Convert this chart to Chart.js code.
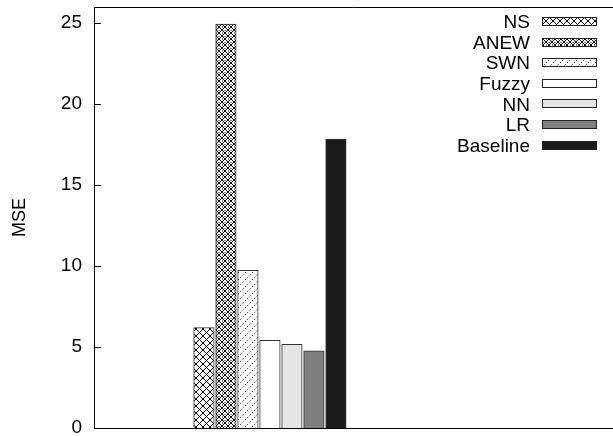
<!DOCTYPE html>
<html>
<head>
<meta charset="utf-8">
<script src="https://cdn.jsdelivr.net/npm/chart.js@4.4.0/dist/chart.umd.min.js"></script>
<style>
  body { margin: 0; background: #fff; }
  #wrap { width: 613px; height: 436px; }
</style>
</head>
<body>
<div id="wrap"><canvas id="myCanvas" width="613" height="436"></canvas></div>
<script>
// values
const methods = ['NS', 'ANEW', 'SWN', 'Fuzzy', 'NN', 'LR', 'Baseline'];
const mse = [6.2, 24.95, 9.73, 5.42, 5.17, 4.76, 17.84];
const fills = ['cross', 'dense', 'dots', '#ffffff', '#e5e5e5', '#7f7f7f', '#1a1a1a'];
const yTicks = [0, 5, 10, 15, 20, 25];

const FONT = '"Liberation Sans", Arial, Helvetica, sans-serif';

function makePattern(kind) {
    var c = document.createElement('canvas');
    var s = kind == 'dense' ? 6 : 7;
    c.width = s; c.height = s;
    var g = c.getContext('2d');
    g.fillStyle = '#fff';
    g.fillRect(0, 0, s, s);
    g.strokeStyle = '#000';
    if (kind == 'cross' || kind == 'dense') {
        g.lineWidth = 1;
        g.beginPath();
        g.moveTo(-1, -1); g.lineTo(s + 1, s + 1);
        g.moveTo(-1, s + 1); g.lineTo(s + 1, -1);
        g.stroke();
        if (kind == 'dense') {
            // little dots in the middle of the holes
            g.fillStyle = '#000';
            g.fillRect(s / 2 - 0.5, 0, 1, 1);
            g.fillRect(0, s / 2 - 0.5, 1, 1);
        }
    } else {
        g.lineWidth = 1;
        g.setLineDash([1.2, 2.1]);
        g.beginPath();
        g.moveTo(0, s); g.lineTo(s, 0);
        g.stroke();
    }
    return g.createPattern(c, 'repeat');
}

const frame = {
    id: 'frame',
    afterDraw(chart) {
        const ctx = chart.ctx;
        const a = chart.chartArea;
        const y = chart.scales.y;
        ctx.save();
        ctx.strokeStyle = '#000';
        ctx.lineWidth = 1;
        ctx.beginPath();
        ctx.moveTo(a.left, a.top + 0.5);
        ctx.lineTo(chart.width, a.top + 0.5);
        yTicks.forEach(function (v) {
            const py = Math.round(y.getPixelForValue(v)) + 0.5;
            ctx.moveTo(a.left, py);
            ctx.lineTo(a.left + 7, py);
        });
        ctx.stroke();

        // legend, text on the left and swatch on the right
        ctx.font = '19px ' + FONT;
        ctx.textAlign = 'right';
        ctx.textBaseline = 'middle';
        chart.data.datasets.forEach(function (ds, i) {
            const cy = 22 + i * 20.6;
            ctx.fillStyle = '#000';
            ctx.fillText(ds.label, 530, cy + 1);
            ctx.fillStyle = ds.backgroundColor;
            ctx.fillRect(542, Math.round(cy - 5), 55, 9);
            ctx.strokeStyle = '#222';
            ctx.strokeRect(542.5, Math.round(cy - 5) + 0.5, 54, 8);
        });
        ctx.restore();
    }
};

function init() {
    const ctx = document.getElementById('myCanvas').getContext('2d');
    const datasets = methods.map(function (m, i) {
        const f = fills[i];
        return {
            label: m,
            data: [{x: 0, y: mse[i]}],
            backgroundColor: f.charAt(0) == '#' ? f : makePattern(f),
            borderColor: '#333',
            borderWidth: 1,
            barThickness: 22,
            maxBarThickness: 20.5
        };
    });

    new Chart(ctx, {
        type: 'bar',
        data: { datasets: datasets },
        options: {
            responsive: false,
            devicePixelRatio: 1,
            animation: false,
            layout: { padding: { left: 0, top: 7, right: 0, bottom: 8 } },
            plugins: {
                legend: { display: false },
                tooltip: { enabled: false }
            },
            scales: {
                x: {
                    type: 'linear',
                    offset: false,
                    min: -1,
                    max: 1.95,
                    ticks: { display: false },
                    grid: { display: false },
                    border: { display: true, color: '#000', width: 1 },
                    afterFit: function (s) { s.height = 0; s.paddingLeft = 0; s.paddingRight = 0; }
                },
                y: {
                    min: 0,
                    max: 26,
                    ticks: {
                        stepSize: 5,
                        includeBounds: false,
                        padding: 12,
                        color: '#000',
                        font: { family: FONT, size: 19 }
                    },
                    grid: { display: false, drawTicks: false },
                    border: { display: true, color: '#000', width: 1 },
                    title: {
                        display: true,
                        text: 'MSE',
                        color: '#000',
                        font: { family: FONT, size: 18 },
                        padding: { top: 9, bottom: 4 }
                    },
                    afterFit: function (s) { s.width = 94; s.paddingTop = 0; s.paddingBottom = 0; }
                }
            }
        },
        plugins: [frame]
    });
}

document.addEventListener('DOMContentLoaded', init);
</script>
</body>
</html>
